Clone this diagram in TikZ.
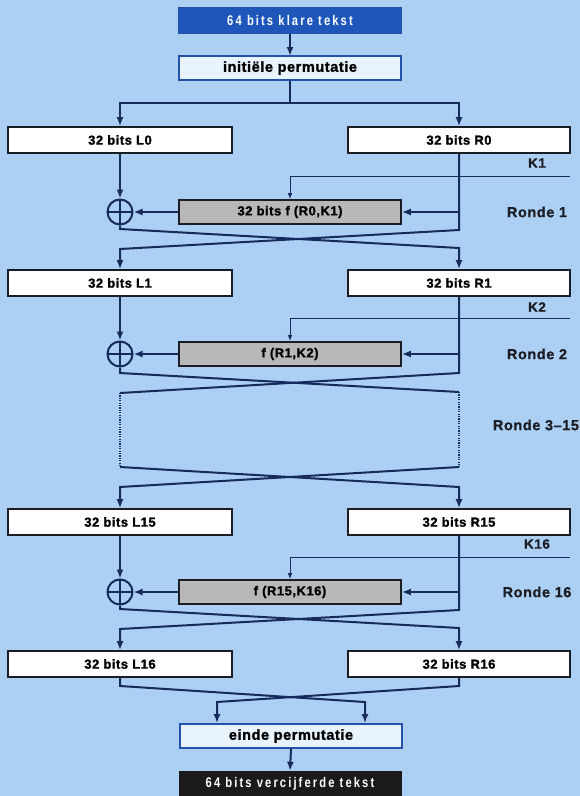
\documentclass[tikz,border=0pt]{standalone}
\usepackage{fontspec}
\setmainfont{Liberation Sans}
\newfontfamily\spacedfont{Liberation Sans}[LetterSpace=15,FakeStretch=0.8]
\newfontfamily\labfont{Liberation Sans}[LetterSpace=4,FakeBold=1.5]
\newfontfamily\rfont{Liberation Sans}[LetterSpace=4,FakeBold=0.8]
\usetikzlibrary{arrows.meta,calc}
\definecolor{bg}{RGB}{172,208,243}
\definecolor{navy}{RGB}{22,42,92}
\definecolor{topblue}{RGB}{30,86,186}
\definecolor{permfill}{RGB}{232,243,252}
\definecolor{permborder}{RGB}{36,82,170}
\definecolor{fgray}{RGB}{184,184,184}
\definecolor{boxborder}{RGB}{28,28,36}
\definecolor{darkbox}{RGB}{26,26,28}
\begin{document}
\begin{tikzpicture}[x=1pt,y=-1pt,
  halfbox/.style={draw=boxborder, line width=1.6pt, fill=white, minimum height=26pt, inner sep=0pt,
    font=\labfont\bfseries\fontsize{13}{15}\selectfont},
  lbox/.style={halfbox, minimum width=224pt},
  rbox/.style={halfbox, minimum width=222pt},
  fbox/.style={draw=boxborder, line width=1.6pt, fill=fgray, minimum width=222pt, minimum height=24pt, inner sep=0pt,
    font=\labfont\bfseries\fontsize{13}{15}\selectfont},
  permbox/.style={draw=permborder, line width=1.8pt, fill=permfill, minimum width=222pt, minimum height=24pt, inner sep=0pt,
    font=\labfont\bfseries\fontsize{14.5}{16}\selectfont},
  endbox/.style={minimum width=223pt, minimum height=26pt, inner sep=0pt, text=white,
    font=\spacedfont\bfseries\fontsize{14}{16}\selectfont},
  xorc/.style={circle, draw=navy, line width=2pt, minimum size=25pt, inner sep=0pt,
    path picture={\draw[navy, line width=1.8pt] (path picture bounding box.north) -- (path picture bounding box.south)
      (path picture bounding box.west) -- (path picture bounding box.east);}},
  wire/.style={draw=navy, line width=2pt},
  arr/.style={wire, -{Latex[length=9pt,width=7pt]}},
  keyline/.style={draw=navy, line width=1pt, -{Latex[length=6pt,width=4.5pt]}},
  dotwire/.style={draw=navy, line width=1.8pt, dash pattern=on 1.2pt off 1.2pt},
  rlabel/.style={font=\rfont\bfseries\fontsize{14.5}{16}\selectfont, text=boxborder},
  klabel/.style={font=\rfont\bfseries\fontsize{13.5}{15}\selectfont, text=boxborder}
]
\fill[bg] (0,0) rectangle (580,796);
\useasboundingbox (0,0) rectangle (580,796);

% top
\node[endbox, fill=topblue, draw=permborder, line width=1pt] (top) at (290,20) {64 bits klare tekst};
\node[permbox] (init) at (290,68) {initiële permutatie};
\draw[arr] (top.south) -- (init.south |- 0,56);

% round 0 boxes
\node[lbox] (L0) at (120,140) {32 bits L0};
\node[rbox] (R0) at (459,140) {32 bits R0};
\coordinate (split) at (290,103);
\draw[wire] (init.south) -- (split);
\draw[arr] (split) -| (L0.north);
\draw[arr] (split) -| (R0.north);

% round 1
\node[fbox] (f1) at (290,212) {32 bits f (R0,K1)};
\node[xorc] (c1) at (120,212) {};
\node[klabel] (k1l) at (537,163) {K1};
\node[rlabel] (r1l) at (537,212) {Ronde 1};
\coordinate (k1) at (570,176);
\draw[keyline] (k1) -| (f1.north);
\draw[arr] (L0.south) -- (c1.north);
\draw[arr] (R0.south |- f1.east) -- (f1.east);
\draw[arr] (f1.west) -- (c1.east);

\node[lbox] (L1) at (120,283) {32 bits L1};
\node[rbox] (R1) at (459,283) {32 bits R1};
\coordinate (a1) at (120,229);
\coordinate (b1) at (459,248);
\coordinate (a2) at (459,230);
\coordinate (b2) at (120,249);
\draw[arr] (c1.south) -- (a1) -- (b1) -- (R1.north);
\draw[arr] (R0.south) -- (a2) -- (b2) -- (L1.north);

% round 2
\node[fbox] (f2) at (290,354) {f (R1,K2)};
\node[xorc] (c2) at (120,354) {};
\node[klabel] (k2l) at (537,307) {K2};
\node[rlabel] (r2l) at (537,354) {Ronde 2};
\coordinate (k2) at (570,318);
\draw[keyline] (k2) -| (f2.north);
\draw[arr] (L1.south) -- (c2.north);
\draw[arr] (R1.south |- f2.east) -- (f2.east);
\draw[arr] (f2.west) -- (c2.east);
\coordinate (d1) at (120,373);
\coordinate (e1) at (459,392);
\coordinate (d2) at (459,373);
\coordinate (e2) at (120,393);
\draw[wire] (c2.south) -- (d1) -- (e1);
\draw[wire] (R1.south) -- (d2) -- (e2);

% rounds 3-15
\node[rlabel] (r3l) at (536,425) {Ronde 3–15};
\coordinate (g1) at (459,467);
\coordinate (g2) at (120,467);
\draw[dotwire] (e1) -- (g1);
\draw[dotwire] (e2) -- (g2);

\node[lbox] (L15) at (120,522) {32 bits L15};
\node[rbox] (R15) at (459,522) {32 bits R15};
\coordinate (h1) at (459,487);
\coordinate (h2) at (120,487);
\draw[arr] (g2) -- (h1) -- (R15.north);
\draw[arr] (g1) -- (h2) -- (L15.north);

% round 16
\node[fbox] (f3) at (290,592) {f (R15,K16)};
\node[xorc] (c3) at (120,592) {};
\node[klabel] (k3l) at (537,544) {K16};
\node[rlabel] (r16l) at (537,592) {Ronde 16};
\coordinate (k3) at (570,557);
\draw[keyline] (k3) -| (f3.north);
\draw[arr] (L15.south) -- (c3.north);
\draw[arr] (R15.south |- f3.east) -- (f3.east);
\draw[arr] (f3.west) -- (c3.east);

\node[lbox] (L16) at (120,664) {32 bits L16};
\node[rbox] (R16) at (459,664) {32 bits R16};
\coordinate (m1) at (120,609);
\coordinate (n1) at (459,628);
\coordinate (m2) at (459,610);
\coordinate (n2) at (120,629);
\draw[arr] (c3.south) -- (m1) -- (n1) -- (R16.north);
\draw[arr] (R15.south) -- (m2) -- (n2) -- (L16.north);

% final
\node[permbox] (einde) at (291,736) {einde permutatie};
\node[endbox, fill=darkbox] (final) at (290,784) {64 bits vercijferde tekst};
\coordinate (p1) at (120,686);
\coordinate (q1) at (365,702);
\coordinate (p2) at (459,686);
\coordinate (q2) at (217,702);
\draw[arr] (L16.south) -- (p1) -- (q1) -- (q1 |- einde.north);
\draw[arr] (R16.south) -- (p2) -- (q2) -- (q2 |- einde.north);
\draw[arr] (einde.south) -- (final.north);
\end{tikzpicture}
\end{document}
